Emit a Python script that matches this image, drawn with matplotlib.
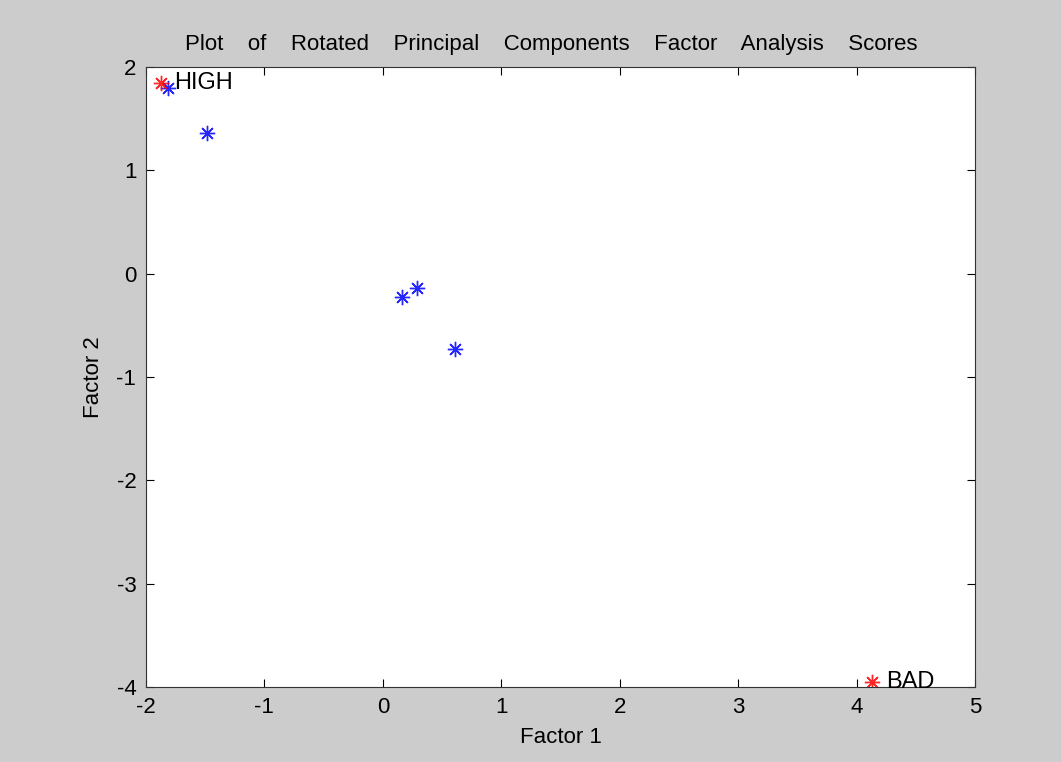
import matplotlib
matplotlib.use("Agg")
import matplotlib.pyplot as plt

plt.rcParams['font.family'] = ['Liberation Sans', 'DejaVu Sans']

blue_x = [-1.817, -1.487, 0.160, 0.292, 0.610]
blue_y = [1.794, 1.358, -0.224, -0.142, -0.730]
red_x = [-1.876, 4.134]
red_y = [1.842, -3.95]
red_labels = ["HIGH", "BAD"]

xticks = [-2, -1, 0, 1, 2, 3, 4, 5]
yticks = [-4, -3, -2, -1, 0, 1, 2]

fig = plt.figure(figsize=(10.61, 7.62), dpi=100, facecolor='#cccccc')
ax = fig.add_axes([0.1376, 0.0984, 0.919 - 0.1376, 0.912 - 0.0984])
ax.set_facecolor('white')

asterisk = (8, 2, 0)
ax.plot(blue_x, blue_y, linestyle='none', marker=asterisk, markersize=11,
        color='blue', markeredgewidth=1.0, alpha=0.85)
ax.plot(red_x, red_y, linestyle='none', marker=asterisk, markersize=11,
        color='red', markeredgewidth=1.0, alpha=0.85)
for x, y, t in zip(red_x, red_y, red_labels):
    ax.annotate(t, (x, y), xytext=(10, 0), textcoords='offset points',
                ha='left', va='center', fontsize=17, color='black')

ax.set_xlim(-2, 5)
ax.set_ylim(-4, 2)
ax.set_xticks(xticks)
ax.set_xticklabels([str(v) for v in xticks])
ax.set_yticks(yticks)
ax.set_yticklabels([str(v) for v in yticks])
ax.tick_params(direction='in', length=6, width=0.8, top=True, right=True,
               labelsize=16, colors='black', pad=7)
for s in ax.spines.values():
    s.set_linewidth(0.8)
    s.set_color('#333333')

ax.set_title("Plot    of    Rotated    Principal    Components    Factor    Analysis    Scores",
             fontsize=16, pad=12, x=0.489)
ax.set_xlabel("Factor 1", fontsize=16, labelpad=7)
ax.set_ylabel("Factor 2", fontsize=16, labelpad=9)

fig.savefig("out.png", dpi=100, facecolor=fig.get_facecolor())
